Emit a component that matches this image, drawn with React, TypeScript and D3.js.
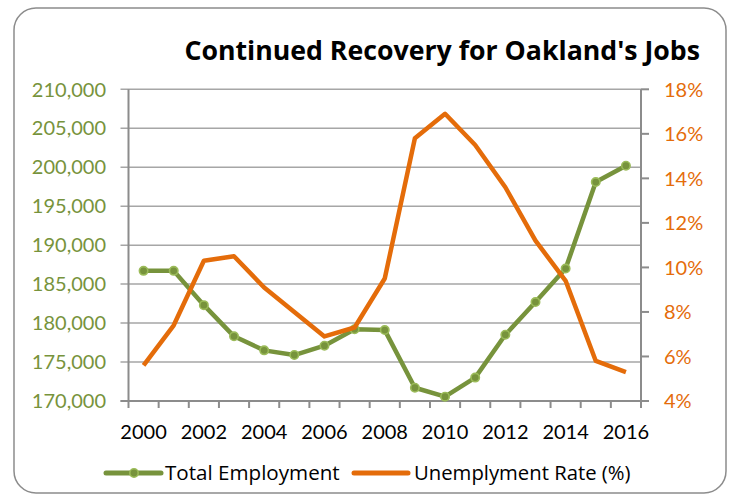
import * as d3 from 'd3';
import * as React from 'react';
import { Component } from 'react';

const years: string[] = ['2000', '2001', '2002', '2003', '2004', '2005', '2006', '2007', '2008',
  '2009', '2010', '2011', '2012', '2013', '2014', '2015', '2016'];

const totalEmployment: number[] = [186700, 186700, 182300, 178300, 176500, 175900, 177100, 179200, 179100,
  171700, 170550, 173000, 178500, 182700, 187000, 198100, 200200];

const unemploymentRate: number[] = [5.6, 7.4, 10.3, 10.5, 9.1, 8.0, 6.9, 7.3, 9.5,
  15.8, 16.9, 15.5, 13.6, 11.2, 9.4, 5.8, 5.3];

const leftTicks: number[] = [170000, 175000, 180000, 185000, 190000, 195000, 200000, 205000, 210000];
const rightTicks: number[] = [4, 6, 8, 10, 12, 14, 16, 18];
const yearLabels: string[] = ['2000', '2002', '2004', '2006', '2008', '2010', '2012', '2014', '2016'];

const GREEN = '#77933C';
const GREEN_LIGHT = '#9BBB59';
const ORANGE = '#E46C0A';
const FONT = 'Lato, "Open Sans", sans-serif';
const FONT_WIDE = '"Open Sans", Lato, sans-serif';

class App extends Component<{}> {

  private chartElement: any;

  componentDidMount() {
    this.renderChart();
  }

  renderChart() {
    const width = 731,
      height = 495;

    const plot = { left: 128.5, right: 641, top: 89.3, bottom: 401 };

    d3.select(this.chartElement).selectAll('*').remove();

    let svg = d3.select(this.chartElement)
      .append('svg')
      .attr('width', width)
      .attr('height', height)
      .style('position', 'absolute')
      .style('left', 0)
      .style('top', 0)
      .style('font-family', FONT);

    // outer frame
    svg.append('rect')
      .attr('x', 14)
      .attr('y', 8)
      .attr('width', 712)
      .attr('height', 485)
      .attr('rx', 22)
      .attr('fill', 'white')
      .attr('stroke', '#8c8c8c')
      .attr('stroke-width', 1.5);

    svg.append('text')
      .attr('x', 700)
      .attr('y', 60)
      .attr('text-anchor', 'end')
      .attr('font-family', FONT_WIDE)
      .attr('font-size', 26.7)
      .attr('font-weight', 'bold')
      .attr('fill', '#000')
      .text("Continued Recovery for Oakland's Jobs");

    const x = d3.scaleBand().domain(years).range([plot.left, plot.right]);
    const yLeft = d3.scaleLinear().domain([170000, 210000]).range([plot.bottom, plot.top]);
    const yRight = d3.scaleLinear().domain([4, 18]).range([plot.bottom, plot.top]);

    // gridlines (they run out past the left axis as its ticks)
    svg.selectAll('.grid')
      .data(leftTicks)
      .enter()
      .append('line')
      .attr('class', 'grid')
      .attr('x1', plot.left - 8)
      .attr('x2', plot.right)
      .attr('y1', d => yLeft(d))
      .attr('y2', d => yLeft(d))
      .attr('stroke', '#a6a6a6')
      .attr('stroke-width', 1.5);

    // axis lines
    svg.append('line')
      .attr('x1', plot.left).attr('x2', plot.left)
      .attr('y1', plot.top).attr('y2', plot.bottom)
      .attr('stroke', '#8c8c8c').attr('stroke-width', 2);

    svg.append('line')
      .attr('x1', plot.right).attr('x2', plot.right)
      .attr('y1', plot.top).attr('y2', plot.bottom)
      .attr('stroke', '#8c8c8c').attr('stroke-width', 2);

    svg.append('line')
      .attr('x1', plot.left - 8).attr('x2', plot.right)
      .attr('y1', plot.bottom).attr('y2', plot.bottom)
      .attr('stroke', '#8c8c8c').attr('stroke-width', 2);

    // right ticks
    svg.selectAll('.rtick')
      .data(rightTicks)
      .enter()
      .append('line')
      .attr('x1', plot.right)
      .attr('x2', plot.right + 8)
      .attr('y1', d => yRight(d))
      .attr('y2', d => yRight(d))
      .attr('stroke', '#8c8c8c')
      .attr('stroke-width', 2);

    // x ticks at band edges
    const edges = years.map(d => x(d) as number).concat([plot.right]);
    svg.selectAll('.xtick')
      .data(edges)
      .enter()
      .append('line')
      .attr('x1', d => d)
      .attr('x2', d => d)
      .attr('y1', plot.bottom)
      .attr('y2', plot.bottom + 7)
      .attr('stroke', '#8c8c8c')
      .attr('stroke-width', 2);

    // labels
    svg.selectAll('.llabel')
      .data(leftTicks)
      .enter()
      .append('text')
      .attr('x', 106)
      .attr('y', d => yLeft(d))
      .attr('dy', '0.36em')
      .attr('text-anchor', 'end')
      .attr('font-size', 20)
      .attr('fill', GREEN)
      .text(d => d3.format(',')(d));

    svg.selectAll('.rlabel')
      .data(rightTicks)
      .enter()
      .append('text')
      .attr('x', 664)
      .attr('y', d => yRight(d))
      .attr('dy', '0.36em')
      .attr('font-size', 20)
      .attr('fill', ORANGE)
      .text(d => d + '%');

    svg.selectAll('.xlabel')
      .data(yearLabels)
      .enter()
      .append('text')
      .attr('x', d => (x(d) as number) + x.bandwidth() / 2)
      .attr('y', 439)
      .attr('text-anchor', 'middle')
      .attr('font-size', 20)
      .attr('fill', '#000')
      .text(d => d);

    // series
    const cx = (i: number) => (x(years[i]) as number) + x.bandwidth() / 2;

    const lineEmp = d3.line<number>()
      .x((d, i) => cx(i))
      .y(d => yLeft(d));

    const lineRate = d3.line<number>()
      .x((d, i) => cx(i))
      .y(d => yRight(d));

    svg.append('path')
      .attr('d', lineEmp(totalEmployment))
      .attr('fill', 'none')
      .attr('stroke', GREEN)
      .attr('stroke-width', 4.5)
      .attr('stroke-linejoin', 'round');

    svg.selectAll('.marker')
      .data(totalEmployment)
      .enter()
      .append('circle')
      .attr('cx', (d, i) => cx(i))
      .attr('cy', d => yLeft(d))
      .attr('r', 4.2)
      .attr('fill', GREEN)
      .attr('stroke', GREEN_LIGHT)
      .attr('stroke-width', 1.6);

    svg.append('path')
      .attr('d', lineRate(unemploymentRate))
      .attr('fill', 'none')
      .attr('stroke', ORANGE)
      .attr('stroke-width', 4.5)
      .attr('stroke-linejoin', 'round');

    // legend
    const legendY = 473;
    svg.append('line')
      .attr('x1', 106).attr('x2', 161)
      .attr('y1', legendY).attr('y2', legendY)
      .attr('stroke', GREEN).attr('stroke-width', 5).attr('stroke-linecap', 'round');
    svg.append('circle')
      .attr('cx', 134).attr('cy', legendY).attr('r', 4.2)
      .attr('fill', GREEN).attr('stroke', GREEN_LIGHT).attr('stroke-width', 1.6);
    svg.append('text')
      .attr('x', 165).attr('y', 479.5)
      .attr('font-family', FONT_WIDE)
      .attr('font-size', 20.6).attr('fill', '#000')
      .text('Total Employment');

    svg.append('line')
      .attr('x1', 354).attr('x2', 408)
      .attr('y1', legendY).attr('y2', legendY)
      .attr('stroke', ORANGE).attr('stroke-width', 5).attr('stroke-linecap', 'round');
    svg.append('text')
      .attr('x', 414).attr('y', 479.5)
      .attr('font-family', FONT_WIDE)
      .attr('font-size', 20.3).attr('fill', '#000')
      .text('Unemplyment Rate (%)');
  }

  render() {
    return (
      <div>
        <div className="Chart" ref={el => { this.chartElement = el; }}></div>
      </div>
    );
  }
}

export default App;
